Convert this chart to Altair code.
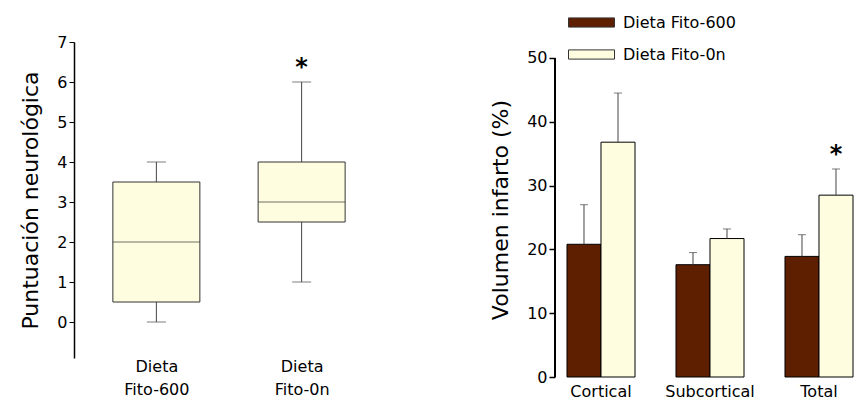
import altair as alt
import pandas as pd

FONT = "DejaVu Sans"
BROWN = "#5E1F00"
CREAM = "#FFFDE0"

# ---- left panel: neurological score box plots ----
groups = ["Fito-600", "Fito-0n"]
g_min = [0, 1]
g_q1 = [0.5, 2.5]
g_med = [2, 3]
g_q3 = [3.5, 4]
g_max = [4, 6]
g_sig = ["", "*"]

# ---- right panel: infarct volume ----
regions = ["Cortical", "Subcortical", "Total"]
diets = ["Dieta Fito-600", "Dieta Fito-0n"]
mean_600 = [20.8, 17.6, 18.9]
err_600 = [6.2, 1.9, 3.4]
mean_0n = [36.8, 21.7, 28.5]
err_0n = [7.7, 1.5, 4.1]
sig_0n = ["", "", "*"]

box_df = pd.DataFrame({"g": groups, "lo": g_min, "q1": g_q1, "med": g_med,
                       "q3": g_q3, "hi": g_max, "sig": g_sig})
box_df["sig_y"] = box_df["hi"] + 0.35

xL = alt.X("g:N", sort=groups,
           scale=alt.Scale(type="point", padding=0.567),
           axis=alt.Axis(title=None, domain=False, ticks=False, labelAngle=0,
                         labelExpr="['Dieta', datum.label]", labelFontSize=16,
                         labelLineHeight=23, labelPadding=0, labelFont=FONT,
                         labelColor="black"))
yscaleL = alt.Scale(domain=[-0.9, 7], nice=False, zero=False)
yL = alt.Y("q1:Q", scale=yscaleL,
           axis=alt.Axis(title="Puntuación neurológica", values=list(range(0, 8)),
                         titleFontSize=22, titleFont=FONT, titleFontWeight="normal",
                         titleColor="black", labelFontSize=16, labelFont=FONT,
                         labelColor="black", tickSize=5, tickColor="black",
                         domainColor="black", domainWidth=1.5, grid=False,
                         titlePadding=14))

baseL = alt.Chart(box_df)
whisk_lo = baseL.mark_rule(color="#444444", strokeWidth=1).encode(
    x=xL, y=alt.Y("lo:Q", scale=yscaleL), y2="q1:Q")
whisk_hi = baseL.mark_rule(color="#444444", strokeWidth=1).encode(
    x=xL, y=alt.Y("q3:Q", scale=yscaleL), y2="hi:Q")
cap_lo = baseL.mark_tick(color="#444444", size=19, thickness=1, orient="horizontal").encode(
    x=xL, y=alt.Y("lo:Q", scale=yscaleL))
cap_hi = baseL.mark_tick(color="#444444", size=19, thickness=1, orient="horizontal").encode(
    x=xL, y=alt.Y("hi:Q", scale=yscaleL))
boxes = baseL.mark_bar(size=87, fill=CREAM, stroke="#333333", strokeWidth=1).encode(
    x=xL, y=yL, y2="q3:Q")
medians = baseL.mark_tick(color="#333333", size=87, thickness=1, orient="horizontal").encode(
    x=xL, y=alt.Y("med:Q", scale=yscaleL))
starsL = baseL.mark_text(font=FONT, fontSize=24, fontWeight="bold", color="black",
                         baseline="middle").encode(
    x=xL, y=alt.Y("sig_y:Q", scale=yscaleL), text="sig:N")

left = alt.layer(boxes, whisk_lo, whisk_hi, cap_lo, cap_hi, medians, starsL).properties(
    width=310, height=316)

# ---- right chart data ----
rows = []
for i, r in enumerate(regions):
    rows.append({"region": r, "diet": diets[0], "mean": mean_600[i],
                 "top": mean_600[i] + err_600[i], "sig": ""})
    rows.append({"region": r, "diet": diets[1], "mean": mean_0n[i],
                 "top": mean_0n[i] + err_0n[i], "sig": sig_0n[i]})
bar_df = pd.DataFrame(rows)
bar_df["sig_y"] = bar_df["top"] + 2.2

yscaleR = alt.Scale(domain=[0, 52.5], nice=False)
xR = alt.X("region:N", sort=regions,
           scale=alt.Scale(paddingInner=0.376, paddingOuter=0.055, align=1),
           axis=alt.Axis(title=None, domain=False, ticks=False, labelAngle=0,
                         labelFontSize=16, labelFont=FONT, labelColor="black",
                         labelPadding=6))
xoff = alt.XOffset("diet:N", sort=diets, scale=alt.Scale(paddingInner=0, paddingOuter=0))
colorR = alt.Color("diet:N", sort=diets,
                   scale=alt.Scale(domain=diets, range=[BROWN, CREAM]),
                   legend=alt.Legend(title=None, orient="none", legendX=494, legendY=-43,
                                     symbolType="M-1,-0.2L1,-0.2L1,0.2L-1,0.2Z",
                                     symbolSize=2116, symbolStrokeColor="#333333",
                                     symbolStrokeWidth=1, labelFontSize=16,
                                     labelFont=FONT, labelColor="black",
                                     labelOffset=8, rowPadding=-16))

baseR = alt.Chart(bar_df)
bars = baseR.mark_bar(stroke="black", strokeWidth=1).encode(
    x=xR, xOffset=xoff, color=colorR,
    y=alt.Y("mean:Q", scale=yscaleR,
            axis=alt.Axis(title="Volumen infarto (%)", values=[0, 10, 20, 30, 40, 50],
                          domain=False, titleFontSize=22, titleFont=FONT,
                          titleFontWeight="normal", titleColor="black",
                          labelFontSize=16, labelFont=FONT, labelColor="black",
                          tickSize=6, tickColor="black", tickWidth=1.5, grid=False,
                          titlePadding=14)))
errs = baseR.mark_rule(color="#444444", strokeWidth=1).encode(
    x=xR, xOffset=xoff, y=alt.Y("mean:Q", scale=yscaleR), y2="top:Q")
caps = baseR.mark_tick(color="#444444", size=8, thickness=1, orient="horizontal").encode(
    x=xR, xOffset=xoff, y=alt.Y("top:Q", scale=yscaleR))
starsR = baseR.mark_text(font=FONT, fontSize=24, fontWeight="bold", color="black",
                         baseline="middle").encode(
    x=xR, xOffset=xoff, y=alt.Y("sig_y:Q", scale=yscaleR), text="sig:N")
axis_line = alt.Chart(pd.DataFrame({"a": [0], "b": [50]})).mark_rule(
    color="black", strokeWidth=2).encode(
    x=alt.value(0), y=alt.Y("a:Q", scale=yscaleR), y2="b:Q")

right = alt.layer(bars, errs, caps, starsR, axis_line).properties(width=298, height=335)

chart = alt.hconcat(left, right, spacing=105).properties(
    padding={"left": 11, "top": -9, "right": 0, "bottom": 0}
).configure(font=FONT).configure_view(stroke=None)

chart.save("out.html", embed_options={"renderer": "svg", "actions": False})
